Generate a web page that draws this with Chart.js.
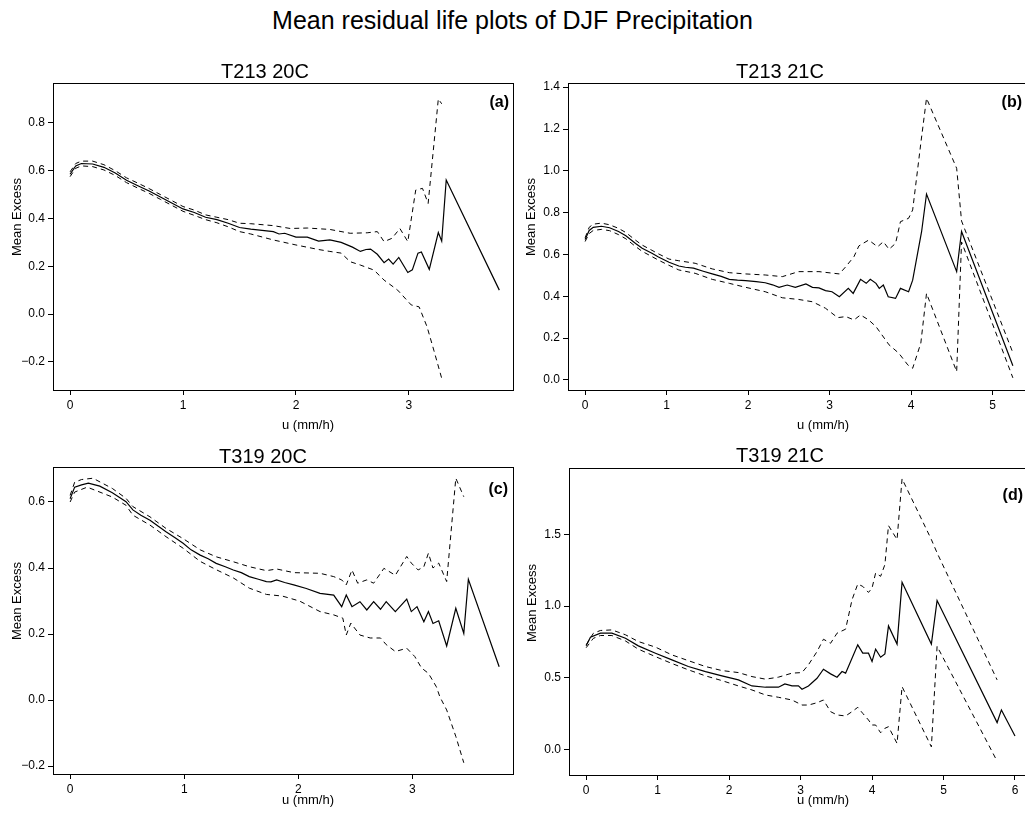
<!DOCTYPE html>
<html>
<head>
<meta charset="utf-8">
<script src="https://cdn.jsdelivr.net/npm/chart.js@4.4.1/dist/chart.umd.min.js"></script>
<style>
html,body{margin:0;padding:0;background:#fff;overflow:hidden;width:1025px;height:818px;position:relative;}
canvas{position:absolute;}
#mainTitle{position:absolute;left:0;top:8px;width:1025px;text-align:center;font-family:"Liberation Sans",Arial,sans-serif;font-size:25px;line-height:25px;color:#000;white-space:nowrap;}
</style>
</head>
<body>
<div id="mainTitle">Mean residual life plots of DJF Precipitation</div>
<canvas id="ca"></canvas>
<canvas id="cb"></canvas>
<canvas id="cc"></canvas>
<canvas id="cd"></canvas>
<script>
// ---------- Panel (a) T213 20C ----------
const aMeanU = [0, 0.05, 0.1, 0.2, 0.3, 0.4, 0.5, 0.6, 0.7, 0.8, 0.9, 1.0, 1.1, 1.2, 1.3, 1.4, 1.5, 1.6, 1.7, 1.8, 1.85, 1.9, 2.0, 2.1, 2.2, 2.3, 2.4, 2.5, 2.57, 2.62, 2.66, 2.72, 2.78, 2.82, 2.86, 2.91, 2.99, 3.03, 3.08, 3.11, 3.18, 3.26, 3.29, 3.33, 3.80];
const aMeanV = [0.585, 0.62, 0.63, 0.628, 0.614, 0.59, 0.56, 0.537, 0.515, 0.49, 0.465, 0.44, 0.425, 0.405, 0.395, 0.38, 0.362, 0.355, 0.35, 0.345, 0.335, 0.338, 0.322, 0.322, 0.305, 0.31, 0.30, 0.28, 0.262, 0.27, 0.272, 0.25, 0.215, 0.23, 0.209, 0.237, 0.174, 0.185, 0.255, 0.26, 0.187, 0.341, 0.305, 0.561, 0.100];
const aUpU = [0, 0.05, 0.1, 0.2, 0.3, 0.4, 0.5, 0.6, 0.7, 0.8, 0.9, 1.0, 1.1, 1.2, 1.3, 1.4, 1.5, 1.6, 1.8, 1.95, 2.1, 2.3, 2.48, 2.63, 2.72, 2.78, 2.85, 2.92, 2.99, 3.06, 3.12, 3.17, 3.26, 3.29];
const aUpV = [0.595, 0.63, 0.64, 0.64, 0.625, 0.60, 0.57, 0.548, 0.525, 0.50, 0.475, 0.45, 0.435, 0.415, 0.405, 0.395, 0.38, 0.378, 0.37, 0.358, 0.36, 0.354, 0.338, 0.34, 0.345, 0.303, 0.317, 0.358, 0.303, 0.519, 0.526, 0.463, 0.90, 0.88];
const aLoU = [0, 0.05, 0.1, 0.2, 0.3, 0.4, 0.5, 0.6, 0.7, 0.8, 0.9, 1.0, 1.1, 1.2, 1.3, 1.4, 1.5, 1.6, 1.8, 2.0, 2.2, 2.3, 2.4, 2.48, 2.57, 2.69, 2.78, 2.9, 3.02, 3.09, 3.16, 3.22, 3.29];
const aLoV = [0.575, 0.61, 0.62, 0.617, 0.603, 0.58, 0.55, 0.527, 0.505, 0.48, 0.455, 0.43, 0.413, 0.395, 0.382, 0.365, 0.345, 0.335, 0.31, 0.289, 0.27, 0.262, 0.255, 0.219, 0.205, 0.184, 0.142, 0.10, 0.038, 0.03, -0.053, -0.151, -0.269];

// ---------- Panel (b) T213 21C ----------
const bMeanU = [0, 0.05, 0.1, 0.2, 0.3, 0.41, 0.5, 0.62, 0.7, 0.82, 0.9, 1.03, 1.15, 1.23, 1.33, 1.45, 1.56, 1.67, 1.77, 1.87, 1.97, 2.1, 2.21, 2.3, 2.38, 2.48, 2.58, 2.71, 2.79, 2.87, 2.95, 3.03, 3.12, 3.23, 3.29, 3.38, 3.45, 3.50, 3.57, 3.61, 3.66, 3.72, 3.81, 3.87, 3.97, 4.02, 4.13, 4.19, 4.56, 4.62, 5.25];
const bMeanV = [0.672, 0.715, 0.73, 0.735, 0.728, 0.71, 0.69, 0.653, 0.63, 0.606, 0.588, 0.563, 0.545, 0.539, 0.535, 0.52, 0.507, 0.495, 0.481, 0.477, 0.475, 0.47, 0.465, 0.455, 0.443, 0.454, 0.443, 0.459, 0.443, 0.44, 0.427, 0.422, 0.398, 0.438, 0.414, 0.481, 0.462, 0.481, 0.462, 0.438, 0.454, 0.398, 0.390, 0.438, 0.422, 0.477, 0.71, 0.889, 0.518, 0.71, 0.068];
const bUpU = [0, 0.05, 0.1, 0.2, 0.3, 0.41, 0.5, 0.62, 0.7, 0.82, 0.9, 1.03, 1.15, 1.35, 1.56, 1.77, 1.97, 2.21, 2.42, 2.62, 2.87, 3.12, 3.20, 3.30, 3.36, 3.48, 3.59, 3.66, 3.73, 3.81, 3.87, 3.97, 4.02, 4.12, 4.19, 4.56, 4.62, 5.25];
const bUpV = [0.68, 0.73, 0.745, 0.75, 0.742, 0.725, 0.705, 0.668, 0.645, 0.62, 0.603, 0.578, 0.57, 0.558, 0.531, 0.513, 0.507, 0.502, 0.494, 0.518, 0.518, 0.507, 0.542, 0.59, 0.641, 0.669, 0.637, 0.661, 0.625, 0.653, 0.757, 0.773, 0.813, 1.132, 1.347, 1.012, 0.76, 0.13];
const bLoU = [0, 0.05, 0.1, 0.2, 0.3, 0.41, 0.5, 0.62, 0.7, 0.82, 0.9, 1.03, 1.15, 1.35, 1.56, 1.77, 1.97, 2.21, 2.42, 2.62, 2.79, 2.95, 3.10, 3.20, 3.30, 3.38, 3.48, 3.57, 3.73, 3.85, 3.96, 4.02, 4.12, 4.19, 4.56, 4.62, 5.25];
const bLoV = [0.662, 0.70, 0.715, 0.72, 0.714, 0.695, 0.675, 0.638, 0.615, 0.59, 0.573, 0.548, 0.526, 0.51, 0.481, 0.462, 0.443, 0.422, 0.393, 0.385, 0.374, 0.343, 0.298, 0.303, 0.287, 0.311, 0.287, 0.255, 0.168, 0.128, 0.072, 0.056, 0.176, 0.414, 0.04, 0.66, 0.01];

// ---------- Panel (c) T319 20C ----------
const cMeanU = [0, 0.04, 0.1, 0.16, 0.26, 0.37, 0.49, 0.55, 0.62, 0.70, 0.77, 0.84, 0.92, 0.99, 1.06, 1.14, 1.21, 1.28, 1.36, 1.43, 1.50, 1.57, 1.65, 1.72, 1.76, 1.81, 1.88, 1.96, 2.07, 2.19, 2.31, 2.38, 2.42, 2.47, 2.54, 2.60, 2.66, 2.72, 2.77, 2.85, 2.95, 2.99, 3.04, 3.10, 3.14, 3.18, 3.23, 3.30, 3.38, 3.45, 3.49, 3.76];
const cMeanV = [0.61, 0.645, 0.652, 0.657, 0.648, 0.628, 0.601, 0.576, 0.56, 0.545, 0.527, 0.51, 0.492, 0.475, 0.455, 0.439, 0.428, 0.414, 0.404, 0.394, 0.386, 0.374, 0.366, 0.359, 0.358, 0.364, 0.356, 0.349, 0.338, 0.323, 0.318, 0.283, 0.318, 0.283, 0.298, 0.273, 0.298, 0.275, 0.298, 0.268, 0.306, 0.268, 0.283, 0.237, 0.268, 0.232, 0.240, 0.164, 0.278, 0.202, 0.366, 0.101];
const cUpU = [0, 0.04, 0.1, 0.2, 0.37, 0.49, 0.55, 0.7, 0.84, 0.99, 1.14, 1.28, 1.43, 1.57, 1.72, 1.81, 1.96, 2.19, 2.31, 2.38, 2.42, 2.47, 2.52, 2.60, 2.66, 2.75, 2.85, 2.95, 2.99, 3.05, 3.10, 3.14, 3.18, 3.23, 3.30, 3.38, 3.45];
const cUpV = [0.62, 0.66, 0.668, 0.672, 0.641, 0.611, 0.586, 0.555, 0.52, 0.489, 0.455, 0.434, 0.419, 0.404, 0.392, 0.397, 0.386, 0.384, 0.374, 0.364, 0.349, 0.394, 0.354, 0.364, 0.354, 0.399, 0.378, 0.435, 0.415, 0.394, 0.404, 0.445, 0.40, 0.415, 0.359, 0.672, 0.616];
const cLoU = [0, 0.04, 0.15, 0.37, 0.49, 0.55, 0.7, 0.84, 0.99, 1.14, 1.28, 1.43, 1.57, 1.72, 1.86, 2.01, 2.19, 2.31, 2.39, 2.42, 2.46, 2.54, 2.63, 2.72, 2.77, 2.85, 2.95, 3.02, 3.08, 3.14, 3.21, 3.24, 3.30, 3.38, 3.45];
const cLoV = [0.60, 0.63, 0.645, 0.615, 0.59, 0.56, 0.53, 0.495, 0.46, 0.42, 0.395, 0.37, 0.339, 0.32, 0.315, 0.30, 0.268, 0.258, 0.248, 0.197, 0.233, 0.197, 0.188, 0.188, 0.168, 0.147, 0.157, 0.132, 0.097, 0.081, 0.04, 0.01, -0.03, -0.11, -0.19];

// ---------- Panel (d) T319 21C ----------
const dMeanU = [0, 0.06, 0.2, 0.36, 0.55, 0.73, 0.97, 1.2, 1.43, 1.67, 1.9, 2.13, 2.32, 2.51, 2.69, 2.78, 2.88, 2.97, 3.02, 3.11, 3.23, 3.32, 3.42, 3.51, 3.58, 3.63, 3.80, 3.87, 3.95, 4.00, 4.05, 4.12, 4.18, 4.23, 4.35, 4.42, 4.83, 4.91, 5.75, 5.81, 6.00];
const dMeanV = [0.723, 0.783, 0.811, 0.811, 0.776, 0.723, 0.672, 0.625, 0.579, 0.544, 0.514, 0.486, 0.444, 0.435, 0.435, 0.458, 0.444, 0.444, 0.421, 0.444, 0.497, 0.560, 0.528, 0.505, 0.544, 0.533, 0.73, 0.672, 0.672, 0.614, 0.70, 0.644, 0.667, 0.862, 0.735, 1.165, 0.735, 1.039, 0.189, 0.277, 0.096];
const dBandU = [0, 0.1, 0.2, 0.36, 0.55, 0.73, 0.97, 1.2, 1.43, 1.67, 1.9, 2.13, 2.32, 2.51, 2.69, 2.88, 3.02, 3.11, 3.23, 3.32, 3.42, 3.51, 3.63, 3.72, 3.80, 3.87, 3.95, 4.00, 4.05, 4.12, 4.18, 4.23, 4.35, 4.42, 4.83, 4.91, 5.75];
const dUpV = [0.73, 0.81, 0.83, 0.834, 0.80, 0.753, 0.714, 0.66, 0.62, 0.579, 0.551, 0.537, 0.509, 0.491, 0.505, 0.533, 0.537, 0.591, 0.683, 0.769, 0.741, 0.811, 0.839, 1.044, 1.153, 1.137, 1.095, 1.125, 1.23, 1.207, 1.289, 1.56, 1.463, 1.886, 1.463, 1.37, 0.486];
const dLoV = [0.71, 0.775, 0.795, 0.795, 0.757, 0.70, 0.648, 0.60, 0.556, 0.514, 0.481, 0.444, 0.416, 0.381, 0.365, 0.346, 0.311, 0.311, 0.327, 0.346, 0.265, 0.242, 0.235, 0.265, 0.295, 0.253, 0.207, 0.172, 0.172, 0.118, 0.149, 0.16, 0.044, 0.439, 0.02, 0.72, -0.08];

// ---------- Text ----------
const panelTitles = ['T213 20C', 'T213 21C', 'T319 20C', 'T319 21C'];
const panelLetters = ['(a)', '(b)', '(c)', '(d)'];
const xAxisTitle = 'u (mm/h)';
const yAxisTitle = 'Mean Excess';

const FONT = '"Liberation Sans", Arial, Helvetica, sans-serif';

function pts(u, v) { return u.map((x, i) => ({ x: x, y: v[i] })); }
function fmtY(v) { const s = Number(v).toFixed(1); return s.replace('-', '\u2212'); }

const panelDecor = {
  id: 'panelDecor',
  afterDraw(chart, args, o) {
    const ctx = chart.ctx, a = chart.chartArea;
    ctx.save();
    ctx.strokeStyle = '#000';
    ctx.lineWidth = 1;
    ctx.setLineDash([]);
    ctx.strokeRect(Math.round(a.left) + 0.5, Math.round(a.top) + 0.5,
                   Math.round(a.right - a.left) - 1, Math.round(a.bottom - a.top));
    ctx.fillStyle = '#000';
    ctx.textBaseline = 'alphabetic';
    ctx.textAlign = 'center';
    ctx.font = '20px ' + FONT;
    ctx.fillText(o.title, o.titleX - o.ox, o.titleY - o.oy);
    ctx.font = 'bold 16px ' + FONT;
    ctx.textAlign = 'right';
    ctx.fillText(o.letter, o.letterX - o.ox, o.letterY - o.oy);
    ctx.font = '13px ' + FONT;
    ctx.textAlign = 'center';
    ctx.textBaseline = 'middle';
    ctx.fillText(xAxisTitle, o.xlabX - o.ox, o.xlabY - o.oy);
    ctx.translate(o.ylabX - o.ox, o.ylabY - o.oy);
    ctx.rotate(-Math.PI / 2);
    ctx.fillText(yAxisTitle, 0, 0);
    ctx.restore();
  }
};

function makePanel(id, pos, area, xr, yr, yStep, mean, up, lo, txt) {
  const cv = document.getElementById(id);
  cv.width = pos.w; cv.height = pos.h;
  cv.style.left = pos.x + 'px'; cv.style.top = pos.y + 'px';
  const axisCommon = {
    type: 'linear',
    border: { display: false },
    grid: { display: true, drawOnChartArea: false, drawTicks: true, tickLength: 5, color: '#000', tickColor: '#000', lineWidth: 1 },
  };
  new Chart(cv, {
    type: 'line',
    data: {
      datasets: [
        { data: mean, borderColor: '#000', borderWidth: 1.2, pointRadius: 0, tension: 0, fill: false },
        { data: up, borderColor: '#000', borderWidth: 1, borderDash: [5, 4], pointRadius: 0, tension: 0, fill: false },
        { data: lo, borderColor: '#000', borderWidth: 1, borderDash: [5, 4], pointRadius: 0, tension: 0, fill: false }
      ]
    },
    options: {
      responsive: false,
      animation: false,
      events: [],
      layout: { padding: { left: 0, top: area.T - pos.y, right: pos.x + pos.w - area.R, bottom: 0 } },
      plugins: {
        legend: { display: false },
        tooltip: { enabled: false },
        panelDecor: Object.assign({ ox: pos.x, oy: pos.y }, txt)
      },
      scales: {
        x: Object.assign({}, axisCommon, {
          min: xr[0], max: xr[1],
          afterFit: s => { s.height = pos.y + pos.h - area.B; },
          ticks: { stepSize: 1, includeBounds: false, padding: 3, color: '#000', maxRotation: 0, autoSkip: false,
                   font: { family: FONT, size: 12 }, callback: v => String(Math.round(v)) }
        }),
        y: Object.assign({}, axisCommon, {
          min: yr[0], max: yr[1],
          afterFit: s => { s.width = area.L - pos.x; },
          ticks: { stepSize: yStep, includeBounds: false, padding: 3, color: '#000', autoSkip: false,
                   font: { family: FONT, size: 12 }, callback: v => fmtY(v) }
        })
      }
    },
    plugins: [panelDecor]
  });
}

makePanel('ca', { x: 0, y: 40, w: 520, h: 400 }, { L: 53, T: 83, R: 514, B: 390 },
  [-0.151, 3.93], [-0.318, 0.967], 0.2,
  pts(aMeanU, aMeanV), pts(aUpU, aUpV), pts(aLoU, aLoV),
  { title: panelTitles[0], titleX: 265, titleY: 78, letter: panelLetters[0], letterX: 509, letterY: 107,
    xlabX: 308, xlabY: 425, ylabX: 17, ylabY: 217 });

makePanel('cb', { x: 514, y: 40, w: 520, h: 400 }, { L: 568, T: 83, R: 1030, B: 390 },
  [-0.21, 5.46], [-0.048, 1.42], 0.2,
  pts(bMeanU, bMeanV), pts(bUpU, bUpV), pts(bLoU, bLoV),
  { title: panelTitles[1], titleX: 780, titleY: 78, letter: panelLetters[1], letterX: 1022, letterY: 107,
    xlabX: 823, xlabY: 425, ylabX: 531, ylabY: 217 });

makePanel('cc', { x: 0, y: 425, w: 520, h: 393 }, { L: 53, T: 467, R: 514, B: 774 },
  [-0.15, 3.89], [-0.224, 0.706], 0.2,
  pts(cMeanU, cMeanV), pts(cUpU, cUpV), pts(cLoU, cLoV),
  { title: panelTitles[2], titleX: 263, titleY: 463, letter: panelLetters[2], letterX: 508, letterY: 494,
    xlabX: 308, xlabY: 800, ylabX: 17, ylabY: 601 });

makePanel('cd', { x: 515, y: 425, w: 520, h: 393 }, { L: 569, T: 468, R: 1030, B: 775 },
  [-0.24, 6.21], [-0.176, 1.961], 0.5,
  pts(dMeanU, dMeanV), pts(dBandU, dUpV), pts(dBandU, dLoV),
  { title: panelTitles[3], titleX: 780, titleY: 462, letter: panelLetters[3], letterX: 1023, letterY: 500,
    xlabX: 823, xlabY: 800, ylabX: 532, ylabY: 603 });
</script>
</body>
</html>
